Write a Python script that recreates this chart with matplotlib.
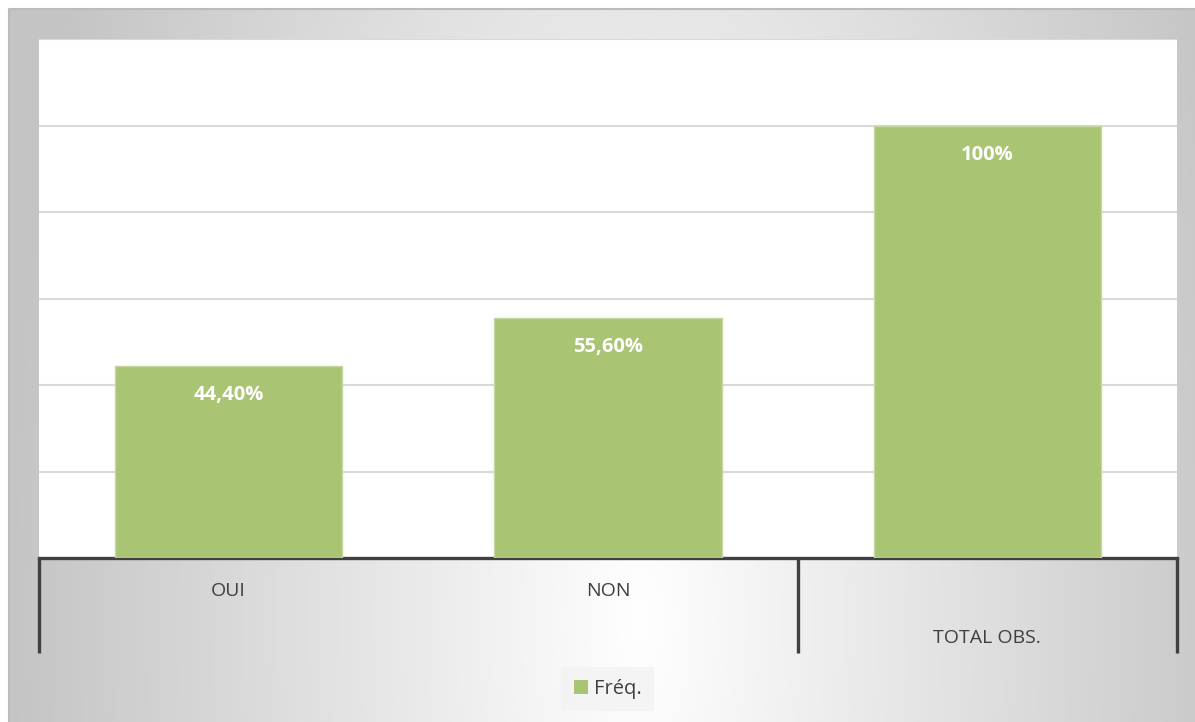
import numpy as np
import matplotlib
matplotlib.use("Agg")
import matplotlib.pyplot as plt
from matplotlib.patches import Patch
import matplotlib.transforms as mtransforms

plt.rcParams['font.family'] = ['Open Sans', 'DejaVu Sans']

# ---- data ----
categories = ["OUI", "NON", "TOTAL OBS."]
values = [0.444, 0.556, 1.0]
value_labels = ["44,40%", "55,60%", "100%"]
label_level = [1, 1, 2]          # 1 = first row of axis labels, 2 = second row
group_bounds = [-0.5, 1.5, 2.5]  # positions of the group separators
series_name = "Fréq."

W, H = 1195, 722
fig = plt.figure(figsize=(W / 100, H / 100), dpi=100)
fig.patch.set_facecolor("white")

# ---- chart area gradient background ----
x0, y0 = 9, 9
bg = fig.add_axes([x0 / W, 0, (W - x0) / W, (H - y0) / H], zorder=0)
xs = np.arange(x0, W)
ys = np.arange(y0, H)
X, Y = np.meshgrid(xs, ys)
d = np.sqrt(((X - 640) / 590.0) ** 2 + ((Y - 620) / 1400.0) ** 2)
v = np.clip(255 - 55 * d, 196, 255) / 255.0
img = np.dstack([v, v, v])
bg.imshow(img, extent=[0, 1, 0, 1], aspect='auto', origin='upper')
bg.plot([0, 0, 1], [0, 1, 1], transform=bg.transAxes, color="#bbbbbb", lw=1.5,
        clip_on=False)
bg.set_xlim(0, 1)
bg.set_ylim(0, 1)
bg.axis("off")

# ---- plot area ----
left, right, top, bottom = 39, 1177, 39, 558
ax = fig.add_axes([left / W, (H - bottom) / H, (right - left) / W, (bottom - top) / H], zorder=1)
ax.set_facecolor("white")
x = np.arange(len(categories))
bars = ax.bar(x, values, width=0.6, color="#a9c574", edgecolor="#c3d79f", lw=1, zorder=3)
ax.set_xlim(-0.5, len(categories) - 0.5)
ax.set_ylim(0, 1.2)
ax.set_yticks(np.arange(0, 1.21, 0.2))
ax.yaxis.grid(True, color="#d9d9d9", lw=1.5, zorder=0)
ax.set_axisbelow(True)
ax.tick_params(left=False, bottom=False, labelleft=False, labelbottom=False)
for s in ["left", "right", "top"]:
    ax.spines[s].set_visible(False)
ax.spines["bottom"].set_color("#404040")
ax.spines["bottom"].set_linewidth(2.4)

for xi, val, lab in zip(x, values, value_labels):
    ax.annotate(lab, (xi, val), xytext=(0, -21), textcoords="offset points",
                ha="center", va="center", color="white", fontsize=14.5,
                fontweight="bold", zorder=5)

# ---- hierarchical category axis ----
trans = mtransforms.blended_transform_factory(ax.transData, ax.transAxes)
ph = bottom - top
tick_len = 95 / ph
for gb in group_bounds:
    ax.plot([gb, gb], [0, -tick_len], transform=trans, color="#404040",
            lw=2.4, clip_on=False, solid_capstyle="butt")
row_y = {1: -33 / ph, 2: -80 / ph}
for xi, cat, lvl in zip(x, categories, label_level):
    ax.text(xi, row_y[lvl], cat, transform=trans, ha="center", va="center",
            fontsize=14, color="#404040")

# ---- legend ----
handles = [Patch(facecolor="#a9c574", edgecolor="none", label=series_name)]
leg = fig.legend(handles=handles, loc="center", bbox_to_anchor=(607.5 / W, 1 - 689 / H),
                 frameon=True, fontsize=14.5, handlelength=0.7, handleheight=0.7,
                 handletextpad=0.3, borderpad=0.6, borderaxespad=0, fancybox=False)
leg.get_frame().set_facecolor("#f3f3f3")
leg.get_frame().set_edgecolor("none")
leg.get_frame().set_alpha(0.8)
for t in leg.get_texts():
    t.set_color("#404040")

fig.savefig("out.png", dpi=100)
